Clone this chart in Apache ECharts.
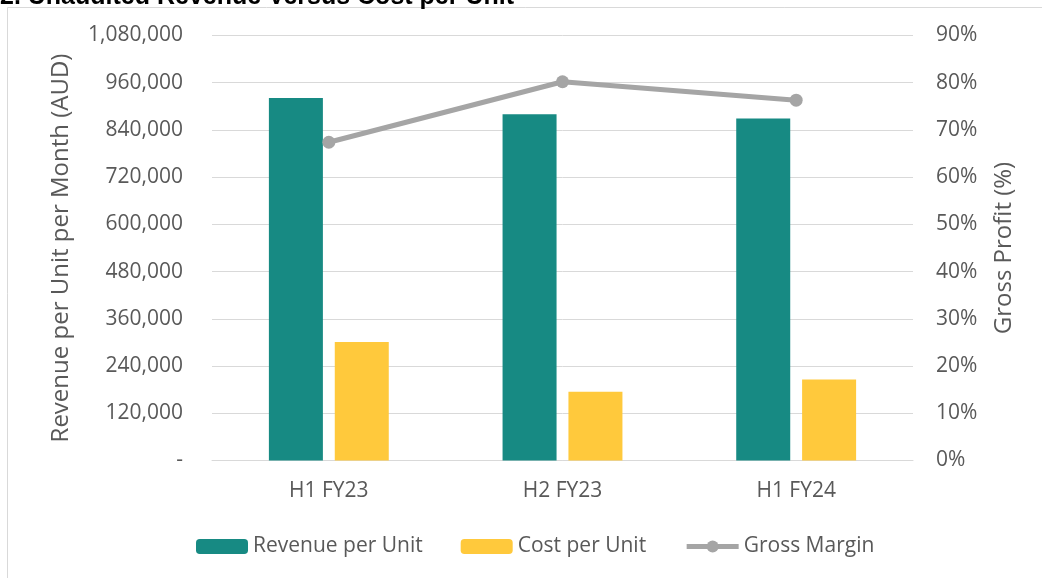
<!DOCTYPE html>
<html>
<head>
<meta charset="utf-8">
<script src="https://cdn.jsdelivr.net/npm/echarts@6/dist/echarts.min.js"></script>
<style>
html,body{margin:0;padding:0;background:#fff;}
#c{width:1042px;height:578px;}
</style>
</head>
<body>
<div id="c"></div>
<script>
const categories = ['H1 FY23', 'H2 FY23', 'H1 FY24'];
const revenuePerUnit = [921000, 880000, 869000];
const costPerUnit = [301000, 175000, 206000];
const grossMargin = [67.4, 80.2, 76.3];
const leftTicks = { min: 0, max: 1080000, interval: 120000 };
const rightTicks = { min: 0, max: 90, interval: 10 };
const titleText = '2. Unaudited Revenue Versus Cost per Unit';

const FONT = '"Open Sans", sans-serif';
const TXT = '#595959';
const GRID = '#D9D9D9';

function fmtNum(v) {
  if (v === 0) return '-';
  return v.toString().replace(/\B(?=(\d{3})+(?!\d))/g, ',');
}

const chart = echarts.init(document.getElementById('c'), null, { renderer: 'canvas' });
chart.setOption({
  backgroundColor: '#fff',
  animation: false,
  textStyle: { fontFamily: FONT },
  graphic: [
    { type: 'rect', shape: { x: 7.5, y: 7.5, width: 1100, height: 700 }, style: { fill: 'none', stroke: GRID, lineWidth: 1 }, z: -10 },
    { type: 'text', x: 0, y: 10, style: { text: titleText, font: 'bold 25px "Liberation Sans", Arial, sans-serif', fill: '#000', verticalAlign: 'bottom' } }
  ],
  grid: { left: 212, right: 129, top: 35.5, bottom: 117.5, containLabel: false },
  legend: {
    left: 196, top: 536, padding: 0,
    itemWidth: 52, itemHeight: 15, itemGap: 38,
    textStyle: { color: TXT, fontSize: 21, fontFamily: FONT },
    data: [
      'Revenue per Unit',
      'Cost per Unit',
      { name: 'Gross Margin', lineStyle: { width: 5, color: '#A5A5A5' }, itemStyle: { color: '#A5A5A5' } }
    ]
  },
  xAxis: {
    type: 'category', data: categories,
    axisLine: { lineStyle: { color: GRID, width: 1 } },
    axisTick: { show: false },
    axisLabel: { color: TXT, fontSize: 21, fontFamily: FONT, margin: 20 }
  },
  yAxis: [
    {
      type: 'value', min: leftTicks.min, max: leftTicks.max, interval: leftTicks.interval,
      name: 'Revenue per Unit per Month (AUD)', nameLocation: 'middle', nameGap: 139,
      nameTextStyle: { color: TXT, fontSize: 24, fontFamily: FONT },
      axisLine: { show: false }, axisTick: { show: false },
      axisLabel: { color: TXT, fontSize: 21, fontFamily: FONT, margin: 29, formatter: fmtNum },
      splitLine: { lineStyle: { color: GRID, width: 1 } }
    },
    {
      type: 'value', min: rightTicks.min, max: rightTicks.max, interval: rightTicks.interval,
      name: 'Gross Profit (%)', nameLocation: 'middle', nameGap: 79, nameRotate: 90,
      nameTextStyle: { color: TXT, fontSize: 24, fontFamily: FONT },
      axisLine: { show: false }, axisTick: { show: false },
      axisLabel: { color: TXT, fontSize: 21, fontFamily: FONT, margin: 23, formatter: '{value}%' },
      splitLine: { show: false }
    }
  ],
  series: [
    { name: 'Revenue per Unit', type: 'bar', data: revenuePerUnit, barWidth: 54, barGap: '22%', itemStyle: { color: '#178A83' } },
    { name: 'Cost per Unit', type: 'bar', data: costPerUnit, barWidth: 54, itemStyle: { color: '#FFC93C' } },
    { name: 'Gross Margin', type: 'line', yAxisIndex: 1, data: grossMargin, symbol: 'circle', symbolSize: 13,
      lineStyle: { color: '#A5A5A5', width: 5 }, itemStyle: { color: '#A5A5A5' }, z: 5 }
  ]
});
</script>
</body>
</html>
